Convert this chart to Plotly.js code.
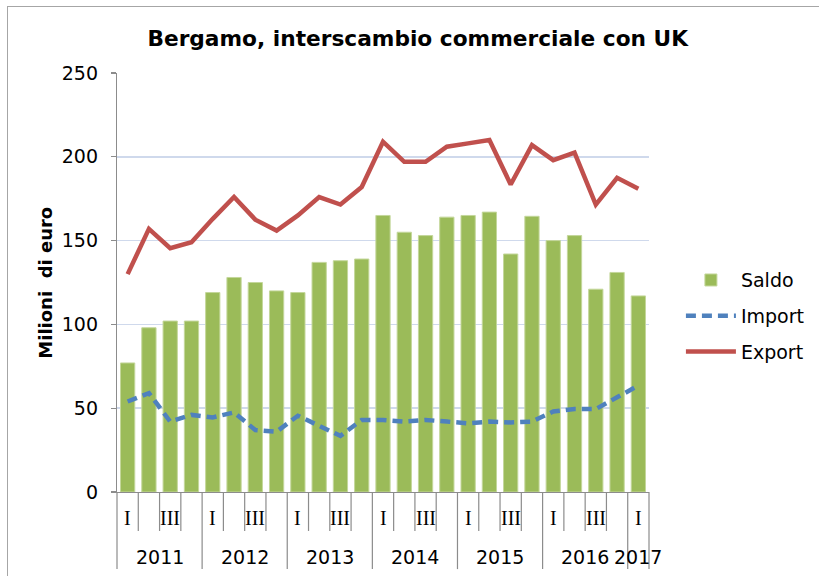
<!DOCTYPE html>
<html>
<head>
<meta charset="utf-8">
<script src="https://cdn.plot.ly/plotly-3.0.1.min.js"></script>
<style>
  html, body { margin: 0; padding: 0; background: #fff; overflow: hidden; }
  #chart { width: 819px; height: 576px; position: absolute; left: 0; top: 0; }
  #frame { position: absolute; left: 7px; top: 6px; width: 900px; height: 700px;
           border-left: 1.5px solid #a6a6a6; border-top: 1.5px solid #a6a6a6;
           pointer-events: none; z-index: 10; }
</style>
</head>
<body>
<div id="chart"></div>
<div id="frame"></div>
<script>
// ---- data ----
const years = ['2011', '2012', '2013', '2014', '2015', '2016', '2017'];
const quarterTicks = ['I', '', 'III', ''];   // II and IV are not labelled
const saldo = [77, 98, 102, 102, 119, 128, 125, 120, 119, 137, 138, 139, 165,
               155, 153, 164, 165, 167, 142, 164.5, 150, 153, 121, 131, 117];
const importV = [54, 59, 42, 46, 44.5, 47.5, 37, 36, 45.5, 39.5, 33.5, 43, 43,
                 42, 43, 42, 41, 42, 41.5, 42, 48, 49.5, 49.5, 56.5, 63.5];
const exportV = [130, 157, 145.5, 149, 163, 176, 162.5, 156, 165, 176, 171.5, 182, 209,
                 197, 197, 206, 208, 210, 183.5, 207, 198, 202.5, 171.5, 187.5, 181];

// ---- build periods from years x quarters ----
const nQ = saldo.length;
const periodYear = [], periodQ = [], xs = [];
for (let i = 0; i < nQ; i++) {
  periodYear.push(years[Math.floor(i / 4)]);
  periodQ.push(quarterTicks[i % 4]);
  xs.push(i);
}

const traces = [
  { type: 'bar', name: 'Saldo', x: xs, y: saldo, legendgroup: 'a',
    marker: { color: '#9bbb59', line: { color: '#c4d79b', width: 1 } } },
  { type: 'scatter', mode: 'lines', name: 'Import', x: xs, y: importV, legendgroup: 'b',
    line: { color: '#4f81bd', width: 4.5, dash: '10px,6px' } },
  { type: 'scatter', mode: 'lines', name: 'Export', x: xs, y: exportV, legendgroup: 'c',
    line: { color: '#c0504d', width: 4.5 } }
];

const grey = '#8c8c8c';
const shapes = [];
const annotations = [];
// separator lines below axis (category boundaries)
for (let i = 0; i <= nQ; i++) {
  const isYear = (i % 4 === 0) || i === nQ;
  shapes.push({ type: 'line', xref: 'x domain', yref: 'paper',
    x0: i / nQ, x1: i / nQ, y0: 0, y1: isYear ? -0.184 : -0.093,
    line: { color: grey, width: 1.2 } });
}
// quarter labels
for (let i = 0; i < nQ; i++) {
  if (periodQ[i]) {
    annotations.push({ xref: 'x', yref: 'paper', x: xs[i], y: -0.062,
      text: periodQ[i], showarrow: false, xanchor: 'center', yanchor: 'middle',
      font: { family: 'Liberation Serif, serif', size: 20, color: '#000' } });
  }
}
// year labels
years.forEach((yr, k) => {
  const idx = xs.filter((x, i) => periodYear[i] === yr);
  const c = (idx[0] + idx[idx.length - 1]) / 2;
  annotations.push({ xref: 'x', yref: 'paper', x: c, y: -0.155,
    text: yr, showarrow: false, xanchor: 'center', yanchor: 'middle',
    font: { family: 'DejaVu Sans, Verdana, sans-serif', size: 19, color: '#000' } });
});
// y-axis title
annotations.push({ xref: 'paper', yref: 'paper', x: -0.135, y: 0.50,
  text: 'Milioni\u00a0 di euro', textangle: -90, showarrow: false,
  xanchor: 'center', yanchor: 'middle',
  font: { family: 'DejaVu Sans, Verdana, sans-serif', size: 18, color: '#000', weight: 'bold' } });

const layout = {
  width: 819, height: 576,
  margin: { l: 117, r: 170, t: 73, b: 84, autoexpand: false },
  paper_bgcolor: 'rgba(0,0,0,0)', plot_bgcolor: 'rgba(0,0,0,0)',
  font: { family: 'DejaVu Sans, Verdana, sans-serif', size: 19, color: '#000' },
  title: { text: '<b>Bergamo, interscambio commerciale con UK</b>',
    x: 0.51, xref: 'container', xanchor: 'center', y: 0.934, yref: 'container', yanchor: 'middle',
    font: { family: 'DejaVu Sans, Verdana, sans-serif', size: 21.7, color: '#000' } },
  bargap: 0.33,
  showlegend: true,
  legend: { x: 1.06, xanchor: 'left', y: 0.551, yanchor: 'top', itemwidth: 50,
    font: { size: 19, color: '#000' }, tracegroupgap: 8, traceorder: 'grouped',
    bgcolor: 'rgba(0,0,0,0)' },
  xaxis: { range: [-0.5, nQ - 0.5], showticklabels: false, ticks: '', showgrid: false,
    showline: true, linecolor: grey, linewidth: 1.2, zeroline: false, fixedrange: true },
  yaxis: { range: [0, 250], dtick: 50, tick0: 0, showgrid: true, gridcolor: '#cfd9ec', gridwidth: 1.5,
    showline: true, linecolor: grey, linewidth: 1.2, ticks: 'outside', ticklen: 5, tickcolor: grey,
    tickwidth: 1.2, ticklabelstandoff: 9, zeroline: false,
    tickfont: { size: 19, color: '#000' } },
  shapes: shapes,
  annotations: annotations
};

Plotly.newPlot('chart', traces, layout, { displayModeBar: false, staticPlot: true });
</script>
</body>
</html>
